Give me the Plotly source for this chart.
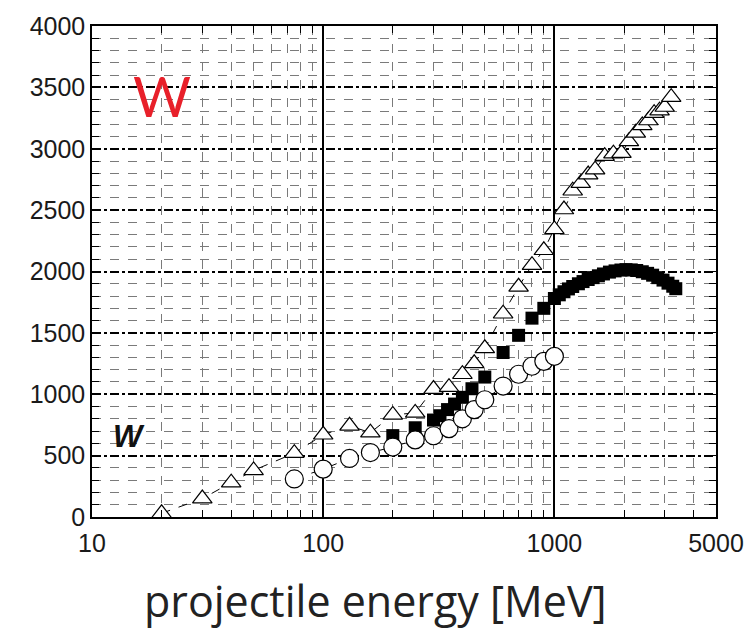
import plotly.graph_objects as go
import math

# ---- data ----
tri_x = [20, 30, 40, 50, 75, 100, 130, 160, 200, 250, 300, 350, 400, 450, 500, 600, 700, 800, 900,
         1000, 1100, 1200, 1300, 1400, 1500, 1650, 1800, 1950, 2100, 2250, 2400, 2550, 2700, 2850, 3000, 3200]
tri_y = [30, 150, 280, 380, 520, 670, 743, 687, 832, 848, 1042, 1058, 1163, 1252, 1374, 1656, 1875, 2052, 2173,
         2343, 2505, 2658, 2720, 2790, 2830, 2940, 2960, 2965, 3060, 3130, 3190, 3230, 3290, 3310, 3340, 3420]

sq_x = [200, 250, 300, 320, 345, 370, 400, 440, 500, 600, 700, 800, 900, 1000, 1050, 1100, 1150, 1200, 1270,
        1330, 1400, 1470, 1550, 1630, 1730, 1830, 1940, 2040, 2150, 2270, 2400, 2530, 2660, 2800, 2950, 3100,
        3250, 3350]
sq_y = [663, 727, 790, 825, 875, 920, 975, 1045, 1140, 1340, 1480, 1620, 1700, 1780, 1810, 1835, 1858, 1878,
        1900, 1918, 1935, 1950, 1965, 1980, 1995, 2005, 2012, 2015, 2013, 2008, 1998, 1985, 1970, 1950, 1930,
        1905, 1880, 1860]

circ_x = [75, 100, 130, 160, 200, 250, 300, 350, 400, 450, 500, 600, 700, 800, 900, 1000]
circ_y = [310, 390, 477, 525, 570, 628, 662, 720, 800, 875, 955, 1067, 1163, 1228, 1268, 1309]

x_tickvals = [10, 100, 1000, 5000]
x_ticktext = ["10", "100", "1000", "5000"]
x_minor = [20, 30, 40, 50, 60, 70, 80, 90, 200, 300, 400, 500, 600, 700, 800, 900, 2000, 3000, 4000]
y_tickvals = [0, 500, 1000, 1500, 2000, 2500, 3000, 3500, 4000]

fig = go.Figure()

fig.add_trace(go.Scatter(
    x=sq_x, y=sq_y, mode="markers",
    marker=dict(symbol="square", size=13, color="black", line=dict(width=0)),
    showlegend=False))

fig.add_trace(go.Scatter(
    x=tri_x, y=tri_y, mode="lines+markers",
    line=dict(color="black", width=1, dash="dash"),
    marker=dict(symbol="triangle-up", size=17, color="white", line=dict(color="black", width=1.2)),
    showlegend=False))

fig.add_trace(go.Scatter(
    x=circ_x, y=circ_y, mode="lines+markers",
    line=dict(color="black", width=1, dash="dash"),
    marker=dict(symbol="circle", size=18, color="white", line=dict(color="black", width=1.2)),
    showlegend=False))

tick_font = dict(family="Liberation Sans, Arial, sans-serif", size=25, color="#1a1a1a")

fig.update_xaxes(
    type="log", range=[1, math.log10(5000)],
    tickmode="array", tickvals=x_tickvals, ticktext=x_ticktext,
    ticks="inside", ticklen=7, tickcolor="black", tickwidth=1,
    showgrid=True, gridcolor="black", gridwidth=1.5, griddash="solid",
    minor=dict(tickmode="array", tickvals=x_minor, ticks="inside", ticklen=7, tickcolor="black",
               showgrid=True, gridcolor="#7a7a7a", gridwidth=1.2, griddash="dash"),
    showline=True, linecolor="black", linewidth=1.5, mirror="allticks",
    tickfont=tick_font, zeroline=False, ticklabelstandoff=3)

fig.update_yaxes(
    range=[0, 4000], tickmode="array", tickvals=y_tickvals,
    ticks="inside", ticklen=7, tickcolor="black", tickwidth=1,
    showgrid=True, gridcolor="black", gridwidth=1.5, griddash="dashdot",
    minor=dict(dtick=100, ticks="inside", ticklen=7, tickcolor="black",
               showgrid=True, gridcolor="#7a7a7a", gridwidth=1.2, griddash="dash"),
    showline=True, linecolor="black", linewidth=1.5, mirror="allticks",
    tickfont=tick_font, zeroline=False)

fig.add_annotation(x=math.log10(20), y=3434, xref="x", yref="y", text="W", showarrow=False,
                   font=dict(family="Lato, sans-serif", size=56, color="#e8202a"))
fig.add_annotation(x=math.log10(14.4), y=654, xref="x", yref="y", text="<b><i>W</i></b>", showarrow=False,
                   font=dict(family="Liberation Sans, Arial, sans-serif", size=31, color="#111"))
fig.add_annotation(x=0.4537, y=-0.17, xref="paper", yref="paper", yanchor="middle", xanchor="center",
                   text="projectile energy [MeV]",
                   showarrow=False, font=dict(family="Open Sans, sans-serif", size=43, color="#222"))

fig.update_layout(
    width=756, height=640,
    margin=dict(l=92, r=38, t=22, b=123),
    paper_bgcolor="white", plot_bgcolor="white",
)

fig.write_html("out.html")
